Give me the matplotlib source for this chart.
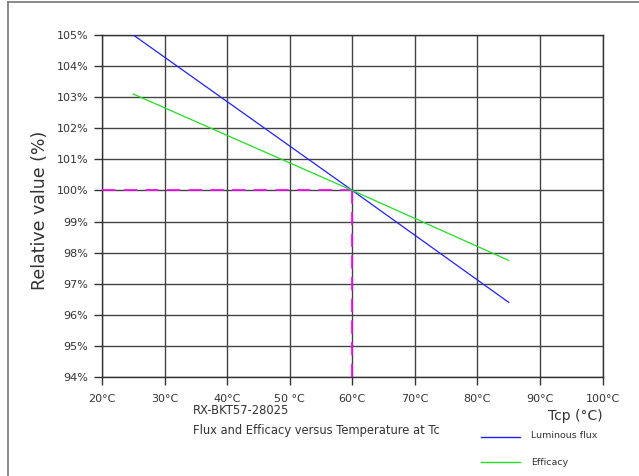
import matplotlib.pyplot as plt
from matplotlib.lines import Line2D

# data
temps = [25, 60, 85]
flux = [105.0, 100.0, 96.4]
efficacy = [103.1, 100.0, 97.75]
ref_temp = 60
ref_value = 100

x_ticks = [20, 30, 40, 50, 60, 70, 80, 90, 100]
x_labels = ["20°C", "30°C", "40°C", "50 °C", "60°C", "70°C", "80°C", "90°C", "100°C"]
y_ticks = [94, 95, 96, 97, 98, 99, 100, 101, 102, 103, 104, 105]
y_labels = [f"{v}%" for v in y_ticks]


def main():
    fig = plt.figure(figsize=(6.39, 4.76), dpi=100)
    ax = fig.add_axes([0.1596, 0.208, 0.7834, 0.7185])

    ax.plot(temps, flux, color="#2020ff", lw=0.9, zorder=4)
    ax.plot(temps, efficacy, color="#20e020", lw=0.9, zorder=4)

    # reference point guides
    ax.plot([20, ref_temp], [ref_value, ref_value], color="#ff00ff", lw=1.2,
            dashes=(8, 5), zorder=3)
    ax.plot([ref_temp, ref_temp], [94, ref_value], color="#ff00ff", lw=1.2,
            dashes=(8, 5), zorder=3)

    ax.set_xlim(20, 100)
    ax.set_ylim(94, 105)
    ax.set_xticks(x_ticks)
    ax.set_xticklabels(x_labels)
    ax.set_yticks(y_ticks)
    ax.set_yticklabels(y_labels)
    ax.tick_params(direction="out", length=6, width=1, color="#333333",
                   labelsize=8, labelcolor="#333333", pad=4)
    ax.tick_params(axis="x", pad=6)
    ax.grid(True, color="#444444", lw=1)
    for s in ax.spines.values():
        s.set_color("#333333")
        s.set_linewidth(1)

    fig.text(0.063, 0.559, "Relative value (%)", rotation=90, fontsize=12.5,
             color="#333333", ha="center", va="center")
    fig.text(0.943, 0.126, "Tcp (°C)", fontsize=10, color="#333333",
             ha="right", va="center")

    fig.text(0.302, 0.138, "RX-BKT57-28025", fontsize=8.3, color="#333333",
             va="center")
    fig.text(0.302, 0.096, "Flux and Efficacy versus Temperature at Tc",
             fontsize=8.3, color="#333333", va="center")

    # legend drawn by hand to match the layout
    fig.add_artist(Line2D([0.752, 0.813], [0.081, 0.081], color="#2020ff", lw=1))
    fig.add_artist(Line2D([0.752, 0.813], [0.029, 0.029], color="#20e020", lw=1))
    fig.text(0.831, 0.086, "Luminous flux", fontsize=6.8, color="#333333", va="center")
    fig.text(0.831, 0.029, "Efficacy", fontsize=6.8, color="#333333", va="center")

    # outer frame
    fig.add_artist(Line2D([0.013, 0.013], [0.0, 0.996], color="#777777", lw=1.2))
    fig.add_artist(Line2D([0.013, 1.0], [0.996, 0.996], color="#777777", lw=1.2))

    fig.savefig("out.png", dpi=100)


if __name__ == "__main__":
    main()
